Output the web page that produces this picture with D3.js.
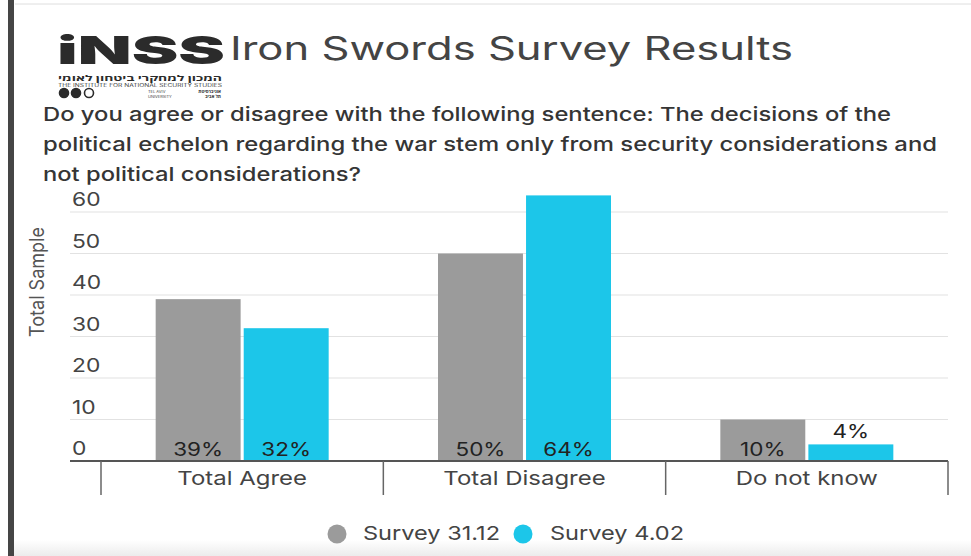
<!DOCTYPE html>
<html>
<head>
<meta charset="utf-8">
<script src="https://cdn.jsdelivr.net/npm/d3@7"></script>
<style>
  html, body { margin: 0; padding: 0; background: #fff; }
  svg { display: block; }
  text { font-family: Inter, "Open Sans", "DejaVu Sans", sans-serif; }
</style>
</head>
<body>
<svg id="chart" width="971" height="556"></svg>
<script>
// Survey answers and the share of respondents for each survey wave
const categories = ["Total Agree", "Total Disagree", "Do not know"];
const seriesNames = ["Survey 31.12", "Survey 4.02"];
const survey3112 = [39, 50, 10];
const survey402 = [32, 64, 4];
const yTicks = [0, 10, 20, 30, 40, 50, 60];

const colors = ["#9b9b9b", "#1cc6e9"];
const seriesValues = [survey3112, survey402];

const svg = d3.select("#chart");
const W = 971, H = 556;

// Stretch a label horizontally so the narrow face reads like a wide grotesque
function widen(sel, f) {
  sel.each(function () {
    const n = this.getComputedTextLength();
    d3.select(this).attr("textLength", n * f).attr("lengthAdjust", "spacingAndGlyphs");
  });
}

// Page frame: dark left rule, faint top rule, soft grey footer band
const defs = svg.append("defs");
const grad = defs.append("linearGradient").attr("id", "foot").attr("x1", 0).attr("x2", 0).attr("y1", 0).attr("y2", 1);
grad.append("stop").attr("offset", "0%").attr("stop-color", "#ffffff");
grad.append("stop").attr("offset", "100%").attr("stop-color", "#ececec");
svg.append("rect").attr("x", 0).attr("y", 540).attr("width", W).attr("height", 16).attr("fill", "url(#foot)");
svg.append("rect").attr("x", 0).attr("y", 0).attr("width", 8).attr("height", H).attr("fill", "#ffffff");
svg.append("rect").attr("x", 8).attr("y", 0).attr("width", 6).attr("height", H).attr("fill", "#454545");
svg.append("line").attr("x1", 15).attr("x2", W).attr("y1", 4).attr("y2", 4).attr("stroke", "#dedede").attr("stroke-width", 1);

// INSS logo block
const logo = svg.append("g");
logo.append("text").attr("x", 57).attr("y", 64)
  .attr("font-family", "'DejaVu Sans', sans-serif").attr("font-weight", 900)
  .attr("font-size", 38).attr("fill", "#2b2b2b")
  .attr("textLength", 168).attr("lengthAdjust", "spacingAndGlyphs")
  .text("iNSS");
logo.append("text").attr("x", 222).attr("y", 81).attr("text-anchor", "end")
  .attr("font-family", "'DejaVu Sans', sans-serif").attr("font-weight", 700)
  .attr("font-size", 8).attr("fill", "#2b2b2b")
  .attr("textLength", 164).attr("lengthAdjust", "spacingAndGlyphs")
  .text("המכון למחקרי ביטחון לאומי");
logo.append("text").attr("x", 58).attr("y", 87)
  .attr("font-size", 4.3).attr("fill", "#444")
  .attr("textLength", 164).attr("lengthAdjust", "spacingAndGlyphs")
  .text("THE INSTITUTE FOR NATIONAL SECURITY STUDIES");
[64, 76, 89].forEach((cx, i) => {
  logo.append("circle").attr("cx", cx).attr("cy", 93).attr("r", 4.5)
    .attr("fill", i < 2 ? "#2b2b2b" : "none").attr("stroke", "#2b2b2b").attr("stroke-width", 1.6);
});
logo.append("text").attr("x", 148).attr("y", 93).attr("font-size", 4).attr("fill", "#444").text("TEL AVIV");
logo.append("text").attr("x", 148).attr("y", 97.5).attr("font-size", 4).attr("fill", "#444").text("UNIVERSITY");
logo.append("text").attr("x", 221).attr("y", 93).attr("text-anchor", "end")
  .attr("font-size", 4.5).attr("font-weight", 700).attr("fill", "#2b2b2b").text("אוניברסיטת");
logo.append("text").attr("x", 221).attr("y", 98).attr("text-anchor", "end")
  .attr("font-size", 4.5).attr("font-weight", 700).attr("fill", "#2b2b2b").text("תל אביב");

// Title and question
svg.append("text").attr("x", 230).attr("y", 60)
  .attr("font-size", 32).attr("fill", "#444")
  .attr("textLength", 563).attr("lengthAdjust", "spacingAndGlyphs")
  .text("Iron Swords Survey Results");

const question = [
  ["Do you agree or disagree with the following sentence: The decisions of the", 848],
  ["political echelon regarding the war stem only from security considerations and", 894],
  ["not political considerations?", 318]
];
svg.append("g").selectAll("text").data(question).join("text")
  .attr("x", 43).attr("y", (d, i) => 121 + i * 30)
  .attr("font-size", 19).attr("font-weight", 500).attr("fill", "#353535")
  .attr("textLength", d => d[1]).attr("lengthAdjust", "spacingAndGlyphs")
  .text(d => d[0]);

// Scales
const plotLeft = 101, plotRight = 948, gridLeft = 70;
const y = d3.scaleLinear().domain([0, 60]).range([461, 212]);
const x = d3.scaleBand().domain(categories).range([plotLeft, plotRight]).padding(0);
const bw = x.bandwidth();
const xSub = d3.scaleBand().domain(seriesNames).range([bw / 2 - 86.5, bw / 2 + 86.5]).paddingInner(0.035);

// Horizontal gridlines with labels sitting above them
const grid = svg.append("g");
grid.selectAll("line").data(yTicks.filter(t => t > 0)).join("line")
  .attr("x1", gridLeft).attr("x2", plotRight)
  .attr("y1", d => y(d)).attr("y2", d => y(d))
  .attr("stroke", "#e2e2e2").attr("stroke-width", 1.2);
grid.selectAll("text").data(yTicks).join("text")
  .attr("x", 72).attr("y", d => y(d) - 6)
  .attr("font-size", 19).attr("fill", "#444")
  .text(d => d)
  .call(widen, 1.2);

// Y axis title
svg.append("text")
  .attr("transform", "translate(44,282) rotate(-90)")
  .attr("text-anchor", "middle")
  .attr("font-family", "'Liberation Sans Narrow', 'Roboto Condensed', Roboto, sans-serif")
  .attr("font-size", 20).attr("fill", "#555")
  .attr("textLength", 110).attr("lengthAdjust", "spacingAndGlyphs")
  .text("Total Sample");

// Bars
const rows = categories.map((c, i) => ({ cat: c, vals: seriesNames.map((s, j) => ({ s, j, v: seriesValues[j][i] })) }));
const groups = svg.append("g").selectAll("g").data(rows).join("g")
  .attr("transform", d => `translate(${x(d.cat)},0)`);
groups.selectAll("rect").data(d => d.vals).join("rect")
  .attr("x", d => xSub(d.s)).attr("width", xSub.bandwidth())
  .attr("y", d => y(d.v)).attr("height", d => y(0) - y(d.v))
  .attr("fill", d => colors[d.j]);
groups.selectAll("text").data(d => d.vals).join("text")
  .attr("x", d => xSub(d.s) + xSub.bandwidth() / 2)
  .attr("y", d => (y(0) - y(d.v) > 24 ? y(0) - 5 : y(d.v) - 6))
  .attr("text-anchor", "middle")
  .attr("font-size", 18).attr("fill", "#222")
  .text(d => d.v + "%")
  .call(widen, 1.25);

// Category axis: baseline, dividers and labels
const axis = svg.append("g");
axis.append("line").attr("x1", gridLeft).attr("x2", plotRight).attr("y1", y(0)).attr("y2", y(0))
  .attr("stroke", "#555").attr("stroke-width", 2);
const dividers = categories.map(c => x(c)).concat([plotRight]);
axis.selectAll("line.div").data(dividers).join("line").attr("class", "div")
  .attr("x1", d => d).attr("x2", d => d).attr("y1", y(0)).attr("y2", 495)
  .attr("stroke", "#666").attr("stroke-width", 1.5);
axis.selectAll("text").data(categories).join("text")
  .attr("x", d => x(d) + bw / 2).attr("y", 485)
  .attr("text-anchor", "middle").attr("font-size", 19).attr("fill", "#444")
  .text(d => d)
  .call(widen, 1.26);

// Legend
const legendPos = [{ cx: 337, tx: 363 }, { cx: 523, tx: 550 }];
const legend = svg.append("g").selectAll("g").data(seriesNames).join("g");
legend.append("circle").attr("cx", (d, i) => legendPos[i].cx).attr("cy", 534).attr("r", 9.5)
  .attr("fill", (d, i) => colors[i]);
legend.append("text").attr("x", (d, i) => legendPos[i].tx).attr("y", 540)
  .attr("font-size", 19).attr("fill", "#444")
  .text(d => d)
  .call(widen, 1.24);
</script>
</body>
</html>
